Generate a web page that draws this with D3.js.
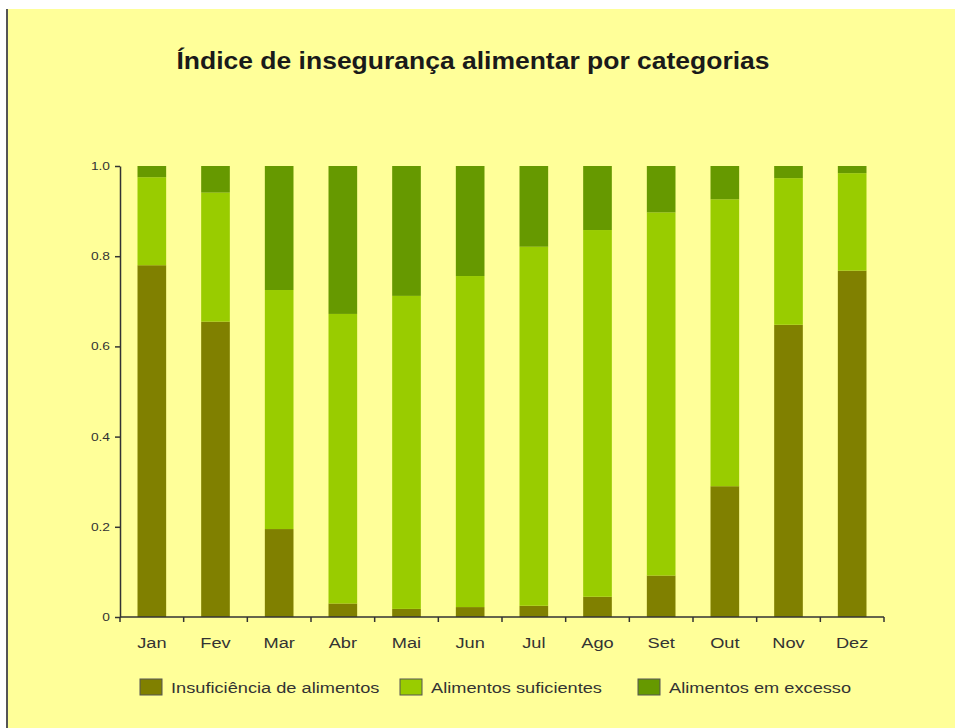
<!DOCTYPE html>
<html><head><meta charset="utf-8">
<script src="https://cdn.jsdelivr.net/npm/d3@7"></script>
<style>body{margin:0;background:#fff;}svg{display:block;}</style>
</head><body>
<svg id="c" width="955" height="728"></svg>
<script>
const months = ["Jan","Fev","Mar","Abr","Mai","Jun","Jul","Ago","Set","Out","Nov","Dez"];
const insuficiencia = [0.78,0.655,0.195,0.03,0.018,0.022,0.025,0.045,0.092,0.29,0.648,0.768];
const suficientes   = [0.195,0.286,0.53,0.642,0.694,0.734,0.796,0.813,0.805,0.636,0.325,0.216];
const excesso       = [0.025,0.059,0.275,0.328,0.288,0.244,0.179,0.142,0.103,0.074,0.027,0.016];
const seriesNames = ["Insuficiência de alimentos","Alimentos suficientes","Alimentos em excesso"];
const colors = ["#808000","#99CC00","#669900"];
const yTicks = [0,0.2,0.4,0.6,0.8,1.0];
const yTickLabels = ["0","0.2","0.4","0.6","0.8","1.0"];

const FONT = "Liberation Sans, Arial, sans-serif";
function stretch(sel, f){
  sel.each(function(){
    const w = this.getComputedTextLength();
    d3.select(this).attr("textLength", w*f).attr("lengthAdjust","spacingAndGlyphs");
  });
}

const svg = d3.select("#c");
svg.append("rect").attr("x",6).attr("y",9).attr("width",949).attr("height",719).attr("fill","#FFFF99");
svg.append("line").attr("x1",7).attr("x2",7).attr("y1",9).attr("y2",728).attr("stroke","#555").attr("stroke-width",2);

const title = svg.append("text").attr("x",473).attr("y",69).attr("text-anchor","middle")
  .attr("font-family",FONT).attr("font-weight","bold")
  .attr("font-size",24).attr("fill","#1a1a1a").text("Índice de insegurança alimentar por categorias");
title.attr("textLength",593).attr("lengthAdjust","spacingAndGlyphs");

const x = d3.scaleBand().domain(months).range([120,884]).paddingInner(0.55).paddingOuter(0.275);
const y = d3.scaleLinear().domain([0,1]).range([617,166]);

const table = months.map((m,i)=>({m, a:insuficiencia[i], b:suficientes[i], c:excesso[i]}));
const stack = d3.stack().keys(["a","b","c"])(table);

svg.append("g").selectAll("g").data(stack).join("g").attr("fill",(d,i)=>colors[i])
  .selectAll("rect").data(d=>d).join("rect")
  .attr("x",d=>x(d.data.m)).attr("width",x.bandwidth())
  .attr("y",d=>y(d[1])).attr("height",d=>y(d[0])-y(d[1]));

// y axis
const yAxis = d3.axisLeft(y).tickValues(yTicks).tickFormat((d,i)=>yTickLabels[i]).tickSize(5).tickSizeOuter(0);
const gy = svg.append("g").attr("transform","translate(120,0)").call(yAxis);
gy.selectAll("text").attr("font-family",FONT).attr("font-size",11).attr("fill","#333").attr("x",-10);
stretch(gy.selectAll("text"),1.25);
gy.selectAll("line,path").attr("stroke","#333").attr("stroke-width",1.5);

// x axis with ticks at band boundaries
const gx = svg.append("g").attr("transform","translate(0,617)");
gx.append("line").attr("x1",120).attr("x2",884).attr("stroke","#333").attr("stroke-width",1.5);
const step = x.step();
gx.selectAll("line.t").data(d3.range(13)).join("line").attr("class","t")
  .attr("x1",i=>120+i*step).attr("x2",i=>120+i*step).attr("y1",0).attr("y2",5).attr("stroke","#333").attr("stroke-width",1.5);
const xl = gx.selectAll("text").data(months).join("text")
  .attr("x",d=>x(d)+x.bandwidth()/2).attr("y",31).attr("text-anchor","middle")
  .attr("font-family",FONT).attr("font-size",14).attr("fill","#333").text(d=>d);
stretch(xl,1.3);

// legend
const legX = [140,400,638];
const lg = svg.append("g");
seriesNames.forEach((n,i)=>{
  lg.append("rect").attr("x",legX[i]).attr("y",679).attr("width",22).attr("height",16).attr("fill",colors[i]).attr("stroke","#555").attr("stroke-width",1);
  const t = lg.append("text").attr("x",legX[i]+31).attr("y",693).attr("font-family",FONT)
    .attr("font-size",14).attr("fill","#333").text(n);
  stretch(t,1.3);
});
</script>
</body></html>
